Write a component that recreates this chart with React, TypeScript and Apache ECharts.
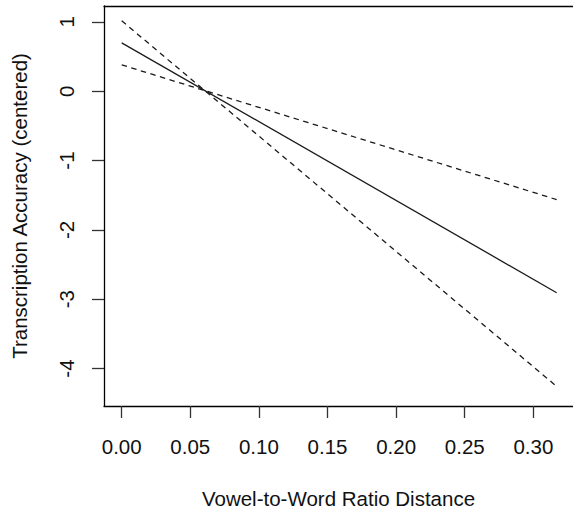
import React, { useEffect, useRef } from "react";
import * as echarts from "echarts";

const xEnds = [0, 0.317];
const fitValues = [0.698, -2.906];
const boundSteepValues = [1.016, -4.257];
const boundShallowValues = [0.38, -1.563];
const xTicks = [0, 0.05, 0.1, 0.15, 0.2, 0.25, 0.3];
const yTicks = [-4, -3, -2, -1, 0, 1];
const xTitle = "Vowel-to-Word Ratio Distance";
const yTitle = "Transcription Accuracy (centered)";

const FONT = "'Liberation Sans', Arial, Helvetica, sans-serif";
const FS = 20.5;

const pairs = (xs: number[], ys: number[]) => xs.map((x, i) => [x, ys[i]]);

export default function App() {
  const ref = useRef<HTMLDivElement>(null);
  useEffect(() => {
    if (!ref.current) return;
    const chart = echarts.init(ref.current, undefined, { renderer: "svg" });
    const dash = [5.5, 4.5];
    const XMIN = -0.0129;
    const XMAX = 0.3289;
    const frame = { show: true, onZero: false, lineStyle: { color: "#000", width: 1.3 } };
    chart.setOption({
      animation: false,
      backgroundColor: "#ffffff",
      textStyle: { fontFamily: FONT },
      grid: {
        left: 104,
        top: 6,
        right: 0,
        bottom: 102,
        show: false,
      },
      xAxis: [
        {
          type: "value",
          min: XMIN,
          max: XMAX,
          position: "bottom",
          axisLine: frame,
          splitLine: { show: false },
          axisTick: {
            show: true,
            length: 12,
            customValues: xTicks,
            lineStyle: { color: "#333", width: 1.3 },
          },
          axisLabel: {
            customValues: xTicks,
            formatter: (v: number) => v.toFixed(2),
            fontSize: FS,
            color: "#111",
            fontFamily: FONT,
            margin: 30,
          },
          name: xTitle,
          nameLocation: "middle",
          nameGap: 82,
          nameTextStyle: { fontSize: FS, color: "#111", fontFamily: FONT },
        },
        {
          type: "value",
          min: XMIN,
          max: XMAX,
          position: "top",
          axisLine: frame,
          splitLine: { show: false },
          axisTick: { show: false },
          axisLabel: { show: false },
        },
      ],
      yAxis: {
        type: "value",
        min: -4.54,
        max: 1.229,
        position: "left",
        axisLine: frame,
        splitLine: { show: false },
        axisTick: {
          show: true,
          length: 12,
          customValues: yTicks,
          lineStyle: { color: "#333", width: 1.3 },
        },
        axisLabel: {
          customValues: yTicks,
          formatter: (v: number) => String(v),
          rotate: 90,
          fontSize: FS,
          color: "#111",
          fontFamily: FONT,
          margin: 27,
        },
        name: yTitle,
        nameLocation: "middle",
        nameGap: 74,
        nameRotate: 90,
        nameTextStyle: { fontSize: FS, color: "#111", fontFamily: FONT },
      },
      series: [
        {
          type: "line",
          data: pairs(xEnds, fitValues),
          showSymbol: false,
          symbol: "none",
          lineStyle: { color: "#1a1a1a", width: 1.3, type: "solid" },
        },
        {
          type: "line",
          data: pairs(xEnds, boundSteepValues),
          showSymbol: false,
          symbol: "none",
          lineStyle: { color: "#1a1a1a", width: 1.3, type: dash },
        },
        {
          type: "line",
          data: pairs(xEnds, boundShallowValues),
          showSymbol: false,
          symbol: "none",
          lineStyle: { color: "#1a1a1a", width: 1.3, type: dash },
        },
      ],
    });
    return () => chart.dispose();
  }, []);
  return (
    <div
      ref={ref}
      style={{ position: "absolute", left: 0, top: 0, width: 573, height: 514, overflow: "hidden" }}
    />
  );
}
